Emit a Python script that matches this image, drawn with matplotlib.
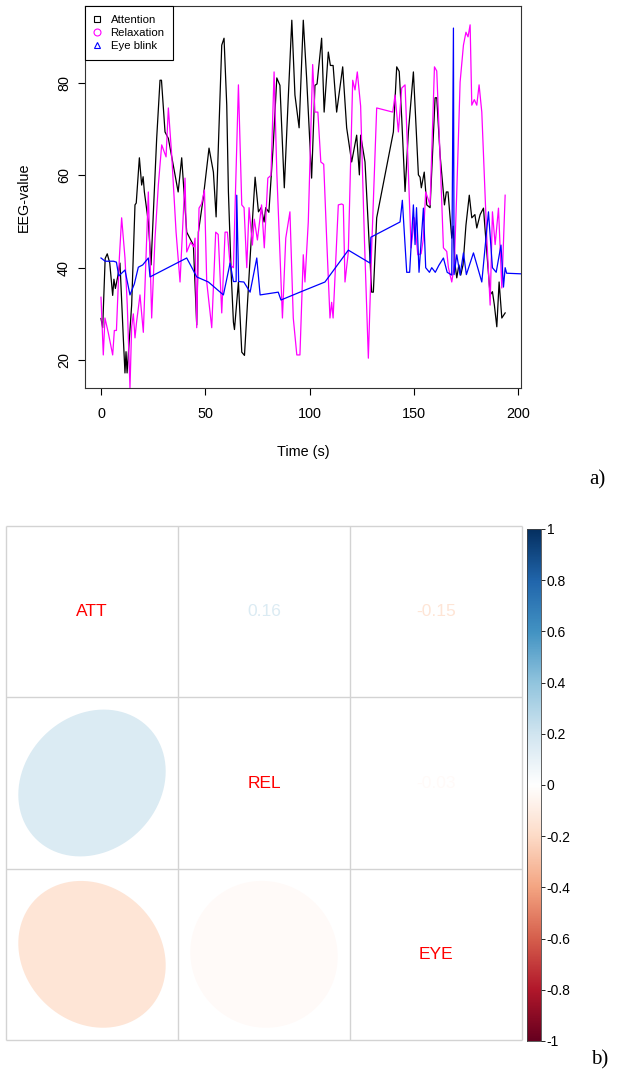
import numpy as np
import matplotlib
matplotlib.use('Agg')
import matplotlib.pyplot as plt
from matplotlib.colors import LinearSegmentedColormap
from matplotlib.patches import Polygon
from matplotlib.lines import Line2D

plt.rcParams['font.family'] = ['Liberation Sans', 'DejaVu Sans']

# ---------------- data: panel a ----------------
att_t = [0.0, 0.8, 2.0, 3.0, 4.2, 5.6, 6.2, 6.9, 8.0, 9.1, 10.7, 11.5, 12.0, 12.5, 14.7, 16.3, 16.9,
         18.4, 19.5, 20.2, 20.8, 22.7, 24.0, 25.0, 26.7, 28.3, 29.0, 30.7, 32.3, 37.0, 38.7, 41.1,
         44.3, 45.9, 46.7, 49.0, 51.8, 53.9, 55.2, 56.3, 57.9, 59.0, 60.3, 61.1, 62.4, 63.5, 64.0,
         65.9, 67.5, 68.8, 71.5, 73.9, 75.5, 76.8, 78.2, 79.0, 80.5, 82.6, 84.3, 85.8, 87.9, 89.8,
         91.5, 93.0, 95.0, 97.0, 98.6, 101.0, 102.6, 103.6, 105.8, 107.0, 109.0, 110.0, 111.3,
         113.0, 115.9, 117.8, 120.2, 122.6, 123.9, 124.5, 126.6, 129.8, 130.6, 132.2, 140.2,
         141.8, 143.0, 144.2, 145.8, 147.4, 149.8, 152.2, 153.0, 153.6, 155.0, 156.2, 157.8,
         160.2, 161.0, 162.6, 164.7, 165.6, 166.4, 168.2, 168.9, 169.8, 170.6, 171.6, 172.5,
         173.6, 175.0, 176.6, 177.8, 179.3, 180.2, 181.8, 183.4, 185.0, 186.6, 187.7, 188.6,
         189.8, 190.9, 192.2, 193.8]
att_v = [29.0, 27.0, 42.0, 43.0, 41.0, 34.0, 37.5, 35.5, 38.0, 41.0, 24.8, 17.2, 21.8, 17.2, 31.9,
         53.6, 54.0, 63.8, 57.9, 59.7, 56.4, 49.9, 40.6, 50.8, 68.0, 80.6, 80.6, 69.4, 68.0, 56.4,
         63.8, 47.7, 44.9, 27.6, 47.7, 55.0, 65.9, 60.7, 51.0, 66.6, 88.2, 89.7, 75.2, 56.4, 39.0,
         28.2, 26.6, 36.9, 21.7, 21.0, 42.1, 59.6, 52.1, 53.0, 49.9, 53.0, 52.0, 66.6, 81.1, 79.5,
         57.3, 76.8, 93.6, 77.4, 70.3, 93.6, 81.1, 59.4, 79.5, 79.8, 89.7, 73.7, 86.7, 83.8, 83.8,
         73.7, 83.5, 70.3, 62.9, 68.7, 60.1, 68.7, 62.9, 34.7, 34.7, 50.8, 69.4, 83.5, 82.5, 72.4,
         56.5, 69.4, 82.4, 60.1, 59.6, 57.3, 60.7, 53.6, 53.0, 76.8, 76.8, 64.4, 53.6, 56.4, 56.4,
         46.4, 49.0, 40.6, 37.8, 40.6, 38.4, 40.6, 49.2, 55.7, 50.8, 51.5, 48.6, 51.5, 52.9, 43.4,
         34.1, 34.8, 32.0, 27.2, 36.9, 29.1, 30.2]

rel_t = [0.0, 1.1, 1.9, 3.5, 5.6, 6.4, 7.4, 8.8, 9.9, 11.5, 12.6, 13.9, 14.7, 15.5, 16.3, 17.0,
         18.7, 20.3, 22.7, 24.3, 25.9, 27.5, 29.1, 31.2, 32.3, 33.9, 36.0, 37.9, 40.3, 41.1, 43.0,
         44.5, 45.1, 45.9, 47.0, 48.2, 49.6, 50.7, 53.1, 55.0, 56.2, 57.9, 59.5, 60.6, 61.9, 63.5,
         65.9, 67.5, 68.6, 69.9, 71.0, 72.6, 73.5, 75.0, 77.0, 78.3, 80.0, 81.5, 83.0, 84.3, 85.0,
         87.0, 88.6, 90.6, 92.2, 93.9, 95.4, 97.0, 97.8, 99.4, 101.5, 102.6, 104.0, 105.4, 106.8,
         108.2, 109.8, 110.6, 111.3, 113.8, 115.4, 116.2, 117.0, 118.6, 120.7, 121.8, 122.9,
         124.5, 126.3, 128.2, 129.8, 132.2, 139.9, 141.0, 142.6, 144.2, 145.8, 147.4, 148.7,
         150.3, 151.9, 153.5, 154.5, 155.7, 157.8, 159.9, 161.0, 162.6, 164.2, 165.8, 166.6,
         168.2, 169.4, 170.6, 172.2, 173.8, 175.0, 176.0, 177.0, 177.8, 179.0, 180.2, 181.3,
         182.6, 185.0, 186.6, 187.7, 189.0, 190.6, 192.2, 193.8]
rel_v = [33.6, 21.1, 29.1, 25.9, 21.1, 26.4, 26.4, 42.1, 50.8, 42.1, 31.9, 13.9, 27.2, 30.0, 24.8,
         28.0, 34.1, 26.0, 56.4, 29.1, 46.4, 57.9, 66.6, 64.0, 74.6, 64.4, 47.7, 36.9, 59.4, 43.4,
         45.5, 44.5, 46.4, 27.0, 52.9, 53.8, 56.8, 36.9, 27.0, 47.7, 47.2, 30.2, 47.7, 47.7, 40.6,
         40.0, 79.6, 53.6, 53.0, 40.0, 53.0, 44.9, 50.5, 46.0, 53.6, 44.3, 59.4, 60.0, 82.4, 60.7,
         52.5, 29.1, 46.4, 52.1, 29.1, 21.1, 21.1, 42.8, 36.9, 49.9, 84.0, 73.7, 73.7, 62.9, 62.4,
         46.4, 29.1, 32.5, 29.1, 53.6, 53.8, 53.6, 36.9, 43.4, 80.6, 78.5, 82.4, 75.0, 46.4, 20.4,
         44.3, 74.6, 73.7, 77.4, 69.4, 78.9, 79.6, 60.7, 44.3, 50.8, 42.8, 43.0, 46.0, 56.4, 53.6,
         83.5, 82.6, 64.0, 44.3, 43.5, 40.0, 36.9, 40.5, 56.4, 80.2, 88.2, 91.0, 90.0, 92.6, 75.2,
         76.4, 75.2, 79.6, 73.7, 46.4, 31.9, 52.1, 45.0, 52.9, 35.6, 55.7]

eye_t = [0.0, 2.0, 6.0, 7.4, 8.5, 11.5, 13.9, 16.0, 17.9, 20.0, 22.7, 23.5, 41.1, 43.0, 45.9, 51.5,
         58.7, 61.9, 63.5, 64.8, 65.1, 66.0, 68.5, 71.5, 74.7, 76.3, 85.0, 86.3, 95.4, 107.4,
         118.6, 129.0, 129.4, 143.4, 144.5, 146.6, 148.0, 149.8, 150.6, 151.3, 152.5, 154.6,
         155.7, 157.5, 158.6, 160.3, 162.0, 164.2, 166.0, 168.2, 169.0, 169.3, 170.6, 172.2,
         173.8, 175.2, 178.6, 182.6, 185.8, 187.7, 189.5, 191.8, 193.0, 193.8, 194.5, 205.0]
eye_v = [42.1, 41.4, 41.4, 41.2, 38.2, 39.5, 34.1, 36.5, 40.1, 40.6, 42.1, 38.0, 42.1, 40.5, 38.0,
         36.9, 34.1, 41.0, 37.0, 37.0, 55.7, 37.0, 36.9, 34.7, 42.1, 34.1, 34.7, 33.0, 34.7, 36.9,
         43.8, 41.0, 46.6, 49.9, 54.6, 39.0, 39.0, 53.6, 45.0, 53.0, 39.0, 52.9, 40.0, 39.0, 40.0,
         39.0, 40.5, 42.1, 39.0, 38.4, 91.9, 38.5, 42.8, 38.4, 43.2, 38.5, 43.2, 36.9, 52.1, 40.0,
         39.0, 44.9, 35.8, 40.0, 38.8, 38.6]

series_labels = ["Attention", "Relaxation", "Eye blink"]
x_ticks = [0, 50, 100, 150, 200]
y_ticks = [20, 40, 60, 80]

# ---------------- data: panel b ----------------
var_names = ["ATT", "REL", "EYE"]
corr = [[1.00, 0.16, -0.15],
        [0.16, 1.00, -0.03],
        [-0.15, -0.03, 1.00]]
cbar_ticks = [1, 0.8, 0.6, 0.4, 0.2, 0, -0.2, -0.4, -0.6, -0.8, -1]

W, H = 624, 1078
fig = plt.figure(figsize=(W / 100, H / 100), dpi=100)


def fx(px):
    return px / W


def fy(py):
    return 1 - py / H


# ================= panel a =================
ax = fig.add_axes([fx(85), fy(388), (521 - 85) / W, (388 - 6) / H])
ax.plot(att_t, att_v, color='black', lw=0.9)
ax.plot(rel_t, rel_v, color='#FF00FF', lw=0.9)
ax.plot(eye_t, eye_v, color='#0000FF', lw=0.9)
ax.set_xlim(-7.67, 201.4)
ax.set_ylim(13.94, 96.68)
ax.set_xticks(x_ticks)
ax.set_yticks(y_ticks)
ax.tick_params(axis='both', direction='out', length=5, width=0.8, labelsize=10.4, colors='black')
ax.tick_params(axis='x', pad=9)
ax.tick_params(axis='y', pad=5)
for lab in ax.get_yticklabels():
    lab.set_rotation(90)
    lab.set_va('center')
for s in ax.spines.values():
    s.set_linewidth(0.8)
    s.set_color('#333333')

fig.text(fx(303), fy(452), "Time (s)", ha='center', va='center', fontsize=10.4)
fig.text(fx(24), fy(197), "EEG-value", ha='center', va='center', rotation=90, fontsize=10.4)

handles = [Line2D([], [], ls='none', marker='s', mfc='none', mec='black', ms=5, mew=0.8),
           Line2D([], [], ls='none', marker='o', mfc='none', mec='#FF00FF', ms=5, mew=0.8),
           Line2D([], [], ls='none', marker='^', mfc='none', mec='#0000FF', ms=5, mew=0.8)]
leg = ax.legend(handles, series_labels, loc='upper left', bbox_to_anchor=(0, 1),
                borderaxespad=0, fontsize=8.2, frameon=True, fancybox=False,
                edgecolor='black', framealpha=1, handlelength=0.6, handletextpad=0.9,
                labelspacing=0.3, borderpad=0.75)
leg.get_frame().set_linewidth(0.8)

fig.text(fx(597), fy(480), "a)", ha='center', va='center', fontsize=15,
         family=['Liberation Serif', 'DejaVu Serif'])

# ================= panel b =================
cmap = LinearSegmentedColormap.from_list(
    'rdbu', ["#67001F", "#B2182B", "#D6604D", "#F4A582", "#FDDBC7", "#FFFFFF",
             "#D1E5F0", "#92C5DE", "#4393C3", "#2166AC", "#053061"], N=200)


def col(r):
    return cmap((r + 1) / 2)


n = len(var_names)
bx = fig.add_axes([fx(6), fy(1040), (522 - 6) / W, (1040 - 526) / H])
bx.set_xlim(0, n)
bx.set_ylim(0, n)
bx.axis('off')

for k in range(n + 1):
    bx.plot([k, k], [0, n], color='#D3D3D3', lw=1.0, solid_capstyle='butt', clip_on=False)
    bx.plot([0, n], [k, k], color='#D3D3D3', lw=1.0, solid_capstyle='butt', clip_on=False)

kk = np.linspace(0, 2 * np.pi, 99)
scale = 0.857
for i in range(n):
    for j in range(n):
        cx = j + 0.5
        cy = n - i - 0.5
        r = corr[i][j]
        if i == j:
            bx.text(cx, cy, var_names[i], ha='center', va='center', color='#FF0000', fontsize=12.5)
        elif j > i:
            bx.text(cx, cy, f"{r:.2f}", ha='center', va='center', color=col(r), fontsize=12.5)
        else:
            d = np.arccos(r)
            ex = np.cos(kk + d / 2) / 2 * scale + cx
            ey = np.cos(kk - d / 2) / 2 * scale + cy
            bx.add_patch(Polygon(np.column_stack([ex, ey]), closed=True, facecolor=col(r),
                                 edgecolor='none'))

cax = fig.add_axes([fx(527), fy(1041), (541 - 527) / W, (1041 - 529) / H])
grad = np.linspace(-1, 1, 200).reshape(-1, 1)
cax.imshow(grad, aspect='auto', cmap=cmap, origin='lower', extent=[0, 1, -1, 1], vmin=-1, vmax=1)
cax.set_xticks([])
cax.yaxis.tick_right()
cax.set_yticks(cbar_ticks)
cax.set_yticklabels([f"{t:g}" for t in cbar_ticks])
cax.tick_params(axis='y', length=3, width=0.6, labelsize=10, pad=1)
for s in cax.spines.values():
    s.set_linewidth(0.6)
    s.set_color('#444444')

fig.text(fx(600), fy(1060), "b)", ha='center', va='center', fontsize=15,
         family=['Liberation Serif', 'DejaVu Serif'])

fig.savefig('out.png', dpi=100, facecolor='white')
